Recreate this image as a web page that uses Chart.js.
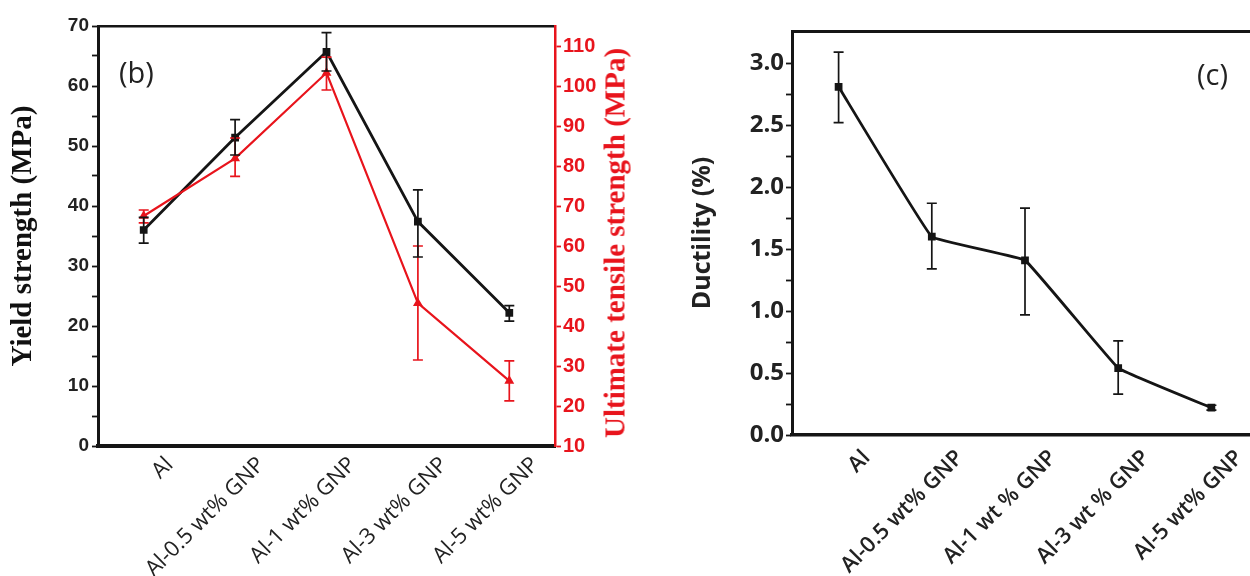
<!DOCTYPE html>
<html><head><meta charset="utf-8">
<script src="https://cdn.jsdelivr.net/npm/chart.js@4.4.0/dist/chart.umd.min.js"></script>
<style>
html,body{margin:0;padding:0;background:#fff;width:1250px;height:576px;overflow:hidden;position:relative;}
#w1{position:absolute;left:0;top:0;width:680px;height:576px;}
#w2{position:absolute;left:680px;top:0;width:620px;height:576px;}
.panel{position:absolute;font-family:"Open Sans";font-size:29px;color:#222;line-height:1;}
#uts{position:absolute;left:615px;top:243px;transform:translate(-50%,-50%) rotate(-90deg);font-family:"Liberation Serif";font-weight:bold;font-size:29px;color:#e8141c;white-space:nowrap;line-height:1;}
</style></head>
<body>
<div id="w1"><canvas id="c1"></canvas></div>
<div id="w2"><canvas id="c2"></canvas></div>
<div class="panel" style="left:119px;top:57px;">(b)</div>
<div class="panel" style="left:1197px;top:59px;">(c)</div>
<div id="uts">Ultimate tensile strength (MPa)</div>
<script>
const categoriesB = ['Al', 'Al-0.5 wt% GNP', 'Al-1 wt% GNP', 'Al-3 wt% GNP', 'Al-5 wt% GNP'];
const categoriesC = ['Al', 'Al-0.5 wt% GNP', 'Al-1 wt % GNP', 'Al-3 wt % GNP', 'Al-5 wt% GNP'];

const yieldStrength = [36.0, 51.4, 65.7, 37.4, 22.2];
const yieldErrLow   = [33.8, 48.5, 62.5, 31.5, 20.8];
const yieldErrHigh  = [38.1, 54.4, 68.9, 42.7, 23.4];

const uts        = [67.5, 81.9, 103.3, 45.7, 26.3];
const utsErrLow  = [65.8, 77.4, 99.0, 31.5, 21.3];
const utsErrHigh = [69.0, 87.0, 107.2, 60.0, 31.3];

const ductility   = [2.81, 1.60, 1.41, 0.54, 0.22];
const ductErrLow  = [2.52, 1.34, 0.97, 0.33, 0.20];
const ductErrHigh = [3.09, 1.87, 1.83, 0.76, 0.24];

const RED = '#e8141c';
const BLK = '#151515';

const errorBars = {
  id: 'errorBars',
  afterDatasetsDraw(chart) {
    const ctx = chart.ctx;
    chart.data.datasets.forEach((ds, i) => {
      if (!ds.errLow) return;
      const meta = chart.getDatasetMeta(i);
      const ys = chart.scales[ds.yAxisID || 'y'];
      const cap = ds.errCap || 5;
      ctx.save();
      ctx.strokeStyle = ds.borderColor;
      ctx.lineWidth = 1.7;
      meta.data.forEach((pt, j) => {
        const x = pt.x;
        const y1 = ys.getPixelForValue(ds.errLow[j]);
        const y2 = ys.getPixelForValue(ds.errHigh[j]);
        ctx.beginPath();
        ctx.moveTo(x, y1); ctx.lineTo(x, y2);
        ctx.moveTo(x - cap, y1); ctx.lineTo(x + cap, y1);
        ctx.moveTo(x - cap, y2); ctx.lineTo(x + cap, y2);
        ctx.stroke();
      });
      ctx.restore();
    });
  }
};

new Chart(document.getElementById('c1'), {
  type: 'line',
  data: {
    labels: categoriesB,
    datasets: [
      { label: 'UTS', data: uts, yAxisID: 'y1', borderColor: RED, backgroundColor: RED, borderWidth: 2.2,
        pointStyle: 'triangle', pointRadius: 3.5, errLow: utsErrLow, errHigh: utsErrHigh, errCap: 5 },
      { label: 'Yield', data: yieldStrength, yAxisID: 'y', borderColor: BLK, backgroundColor: BLK, borderWidth: 2.8,
        pointStyle: 'rect', pointRadius: 3.5, errLow: yieldErrLow, errHigh: yieldErrHigh, errCap: 5 }
    ]
  },
  options: {
    responsive: true, maintainAspectRatio: false, animation: false,
    layout: { padding: { top: 26, left: 0, right: 0, bottom: 0 } },
    plugins: { legend: { display: false }, tooltip: { enabled: false } },
    scales: {
      x: {
        type: 'category', offset: true,
        grid: { display: false, drawTicks: false },
        border: { color: BLK, width: 4 },
        ticks: { autoSkip: false, minRotation: 45, maxRotation: 45, labelOffset: 26, padding: 6,
                 color: '#222', font: { family: 'Open Sans', size: 22 } },
        afterFit(s) { s.height = 130; }
      },
      x2: {
        type: 'category', position: 'top', labels: categoriesB, offset: true,
        grid: { display: false }, ticks: { display: false },
        border: { color: BLK, width: 2.5 },
        afterFit(s) { s.height = 0; }
      },
      y: {
        position: 'left', min: 0, max: 70,
        ticks: { stepSize: 5, callback: v => (v % 10 === 0 ? v : ''), color: '#222', padding: 3,
                 font: { family: 'Liberation Sans', weight: 'bold', size: 19 } },
        grid: { drawOnChartArea: false, tickLength: 6, color: BLK, tickWidth: 1.8 },
        border: { color: BLK, width: 3 },
        title: { display: true, text: 'Yield strength (MPa)', color: '#111',
                 font: { family: 'Liberation Serif', weight: 'bold', size: 29 }, padding: { top: 6, bottom: 0 } },
        afterFit(s) { s.width = 98; }
      },
      y1: {
        position: 'right', min: 10, max: 115,
        ticks: { stepSize: 5, callback: v => (v % 10 === 0 ? v : ''), color: RED, padding: 2,
                 font: { family: 'Liberation Sans', weight: 'bold', size: 20 } },
        grid: { drawOnChartArea: false, tickLength: 6, color: RED, tickWidth: 1.8 },
        border: { color: RED, width: 2.5 },
        afterFit(s) { s.width = 125; }
      }
    }
  },
  plugins: [errorBars]
});

new Chart(document.getElementById('c2'), {
  type: 'line',
  data: {
    labels: categoriesC,
    datasets: [
      { label: 'Ductility', data: ductility, borderColor: BLK, backgroundColor: BLK, borderWidth: 2.8,
        tension: 0.06, pointStyle: 'rect', pointRadius: 3.5, errLow: ductErrLow, errHigh: ductErrHigh, errCap: 5 }
    ]
  },
  options: {
    responsive: true, maintainAspectRatio: false, animation: false,
    layout: { padding: { top: 31, left: 0, right: 42, bottom: 0 } },
    plugins: { legend: { display: false }, tooltip: { enabled: false } },
    scales: {
      x: {
        type: 'category', offset: true,
        grid: { display: false, drawTicks: false },
        border: { color: BLK, width: 3.5 },
        ticks: { autoSkip: false, minRotation: 45, maxRotation: 45, labelOffset: 28, padding: 10,
                 color: '#222', font: { family: 'Open Sans', size: 22, weight: '600' } },
        afterFit(s) { s.height = 141; }
      },
      x2: {
        type: 'category', position: 'top', labels: categoriesC, offset: true,
        grid: { display: false }, ticks: { display: false },
        border: { color: BLK, width: 3 },
        afterFit(s) { s.height = 0; }
      },
      y: {
        position: 'left', min: 0, max: 3.26,
        afterBuildTicks(s) { s.ticks = s.ticks.filter(t => Math.abs(t.value * 4 - Math.round(t.value * 4)) < 1e-6); },
        ticks: { stepSize: 0.25, callback: v => (Math.abs(v * 2 - Math.round(v * 2)) < 1e-6 ? Number(v).toFixed(1) : ''),
                 color: '#222', padding: 2, font: { family: 'Open Sans', weight: 'bold', size: 24 } },
        grid: { drawOnChartArea: false, tickLength: 6, color: BLK, tickWidth: 1.8 },
        border: { color: BLK, width: 3 },
        title: { display: true, text: 'Ductility (%)', color: '#222',
                 font: { family: 'Open Sans', weight: 'bold', size: 25 }, padding: { top: 8, bottom: 0 } },
        afterFit(s) { s.width = 112; }
      }
    }
  },
  plugins: [errorBars]
});
</script>
</body></html>
